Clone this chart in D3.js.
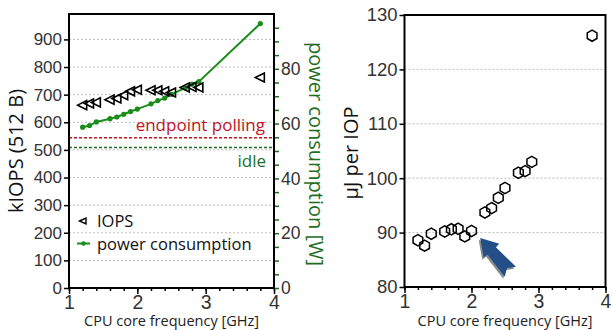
<!DOCTYPE html>
<html lang="en">
<head>
<meta charset="utf-8">
<title>CPU frequency vs IOPS and energy</title>
<style>
  body { margin: 0; background: #fff; }
  svg { display: block; font-family: "Open Sans", sans-serif; }
  .grid line { stroke: #bdbdbd; stroke-dasharray: 2,2; }
  .frame { fill: none; stroke: #000; stroke-width: 2; }
  .tick text { fill: #333; }
</style>
</head>
<body>
<svg width="613" height="330"></svg>
<script src="https://d3js.org/d3.v7.min.js"></script>
<script>
  // CPU core frequency in GHz
  const freqs = [1.2, 1.3, 1.4, 1.6, 1.7, 1.8, 1.9, 2.0, 2.2, 2.3, 2.4, 2.5, 2.7, 2.8, 2.9, 3.8];
  // kIOPS (512 B)
  const kiops = [662, 668, 672, 682, 686, 698, 712, 718, 716, 716, 712, 708, 726, 728, 726, 762];
  // power consumption in W
  const power = [58.7, 59.3, 60.6, 61.8, 62.4, 63.4, 64.4, 65.3, 67.2, 68.4, 69.3, 70.7, 73.0, 74.4, 75.3, 96.5];
  // energy per IO in uJ
  const energy = [88.6, 87.6, 89.8, 90.2, 90.6, 90.7, 89.3, 90.3, 93.7, 94.5, 96.4, 98.2, 101.0, 101.3, 103.0, 126.2];
  // reference levels in W
  const pollingW = 54.8;
  const idleW = 51.3;

  const green = "#1a8c1a";
  const darkGreen = "#1f6e1f";
  const red = "#c0141e";

  const svg = d3.select("svg");

  // ---------- left panel ----------
  const x1 = d3.scaleLinear().domain([1, 4]).range([69, 274]);
  const yIops = d3.scaleLinear().domain([0, 992]).range([288, 14]);
  const yPow = d3.scaleLinear().domain([0, 100]).range([288, 14]);

  const left = svg.append("g");

  left.append("g").attr("class", "grid")
    .selectAll("line").data(d3.range(100, 901, 100)).join("line")
    .attr("x1", 69).attr("x2", 274)
    .attr("y1", d => yIops(d)).attr("y2", d => yIops(d));

  // reference lines
  left.append("line")
    .attr("x1", 69).attr("x2", 274)
    .attr("y1", yPow(pollingW)).attr("y2", yPow(pollingW))
    .attr("stroke", red).attr("stroke-width", 1.5).attr("stroke-dasharray", "3,2");
  left.append("line")
    .attr("x1", 69).attr("x2", 274)
    .attr("y1", yPow(idleW)).attr("y2", yPow(idleW))
    .attr("stroke", darkGreen).attr("stroke-width", 1.5).attr("stroke-dasharray", "3,2");
  left.append("text").text("endpoint polling")
    .attr("x", 265).attr("y", yPow(pollingW) - 7)
    .attr("text-anchor", "end").attr("fill", red).style("font-size", "17px");
  left.append("text").text("idle")
    .attr("x", 266).attr("y", yPow(idleW) + 20)
    .attr("text-anchor", "end").attr("fill", darkGreen).style("font-size", "17px");

  // power line
  const pts = freqs.map((f, i) => [f, power[i]]);
  left.append("path")
    .datum(pts)
    .attr("fill", "none").attr("stroke", green).attr("stroke-width", 2)
    .attr("d", d3.line().x(d => x1(d[0])).y(d => yPow(d[1])));
  left.append("g").selectAll("circle").data(pts).join("circle")
    .attr("cx", d => x1(d[0])).attr("cy", d => yPow(d[1]))
    .attr("r", 2.6).attr("fill", green);

  // IOPS triangles pointing left
  const tri = "M-5,0L4,-4.5L4,4.5Z";
  left.append("g").selectAll("path").data(freqs).join("path")
    .attr("transform", (f, i) => `translate(${x1(f)},${yIops(kiops[i])})`)
    .attr("d", tri)
    .attr("fill", "none").attr("stroke", "#000").attr("stroke-width", 1.6);

  // axes
  const xAxisL = left.append("g").attr("transform", "translate(0,288)");
  xAxisL.call(d3.axisBottom(x1).tickValues(d3.range(1, 4.01, 0.2)).tickFormat("").tickSize(3));
  const xMajL = left.append("g").attr("transform", "translate(0,288)")
    .call(d3.axisBottom(x1).tickValues([1, 2, 3, 4]).tickFormat(d3.format("d")).tickSize(6).tickPadding(1));
  xMajL.selectAll("text").style("font-size", "19.5px");

  const yAxL = left.append("g").attr("transform", "translate(69,0)")
    .call(d3.axisLeft(yIops).tickValues(d3.range(0, 901, 100)).tickSize(5).tickPadding(2));
  yAxL.selectAll("text").style("font-size", "17px");

  const yAxR = left.append("g").attr("transform", "translate(274,0)")
    .call(d3.axisRight(yPow).tickValues(d3.range(0, 96, 5)).tickFormat(d => d % 20 === 0 ? d : "").tickSize(5).tickPadding(2));
  yAxR.selectAll("line").attr("stroke", darkGreen).attr("stroke-width", 1.5);
  yAxR.selectAll("text").style("font-size", "17.5px").attr("fill", darkGreen);

  [xAxisL, xMajL, yAxL, yAxR].forEach(a => a.select(".domain").remove());
  [xAxisL, xMajL, yAxL].forEach(a => a.selectAll("line").attr("stroke-width", 1.5));

  left.append("rect").attr("class", "frame")
    .attr("x", 69).attr("y", 14).attr("width", 205).attr("height", 274);

  // legend
  left.append("path").attr("d", "M-3.5,0L3,-3L3,3Z")
    .attr("transform", "translate(83,221)")
    .attr("fill", "none").attr("stroke", "#000").attr("stroke-width", 1.4);
  left.append("text").text("IOPS").attr("x", 97).attr("y", 226.5).style("font-size", "16.5px").attr("fill", "#111");
  left.append("line").attr("x1", 77).attr("x2", 90).attr("y1", 243.5).attr("y2", 243.5)
    .attr("stroke", green).attr("stroke-width", 2);
  left.append("circle").attr("cx", 83.5).attr("cy", 243.5).attr("r", 2.3).attr("fill", green);
  left.append("text").text("power consumption").attr("x", 97).attr("y", 249.5).style("font-size", "16.5px").attr("fill", "#111");

  // axis titles
  left.append("text").text("kIOPS (512 B)")
    .attr("transform", "translate(23,151) rotate(-90)")
    .attr("text-anchor", "middle").style("font-size", "20px").attr("fill", "#111");
  left.append("text").text("power consumption [W]")
    .attr("transform", "translate(309,154) rotate(90)")
    .attr("text-anchor", "middle").style("font-size", "20px").attr("fill", darkGreen);
  left.append("text").text("CPU core frequency [GHz]")
    .attr("x", 171.5).attr("y", 326)
    .attr("text-anchor", "middle").style("font-size", "14.5px").attr("fill", "#222");

  // ---------- right panel ----------
  const x2 = d3.scaleLinear().domain([1, 4]).range([404.5, 605.5]);
  const yE = d3.scaleLinear().domain([80, 130]).range([287, 15]);

  const right = svg.append("g");

  right.append("g").attr("class", "grid")
    .selectAll("line").data([90, 100, 110, 120]).join("line")
    .attr("x1", 404.5).attr("x2", 605.5)
    .attr("y1", d => yE(d)).attr("y2", d => yE(d));

  // pointy-top hexagon
  const r = 5.6;
  const hex = d3.range(6).map(k => {
    const a = Math.PI / 3 * k - Math.PI / 2;
    return [r * Math.cos(a), r * Math.sin(a)];
  });
  const hexPath = "M" + hex.map(p => p.join(",")).join("L") + "Z";
  right.append("g").selectAll("path").data(freqs).join("path")
    .attr("transform", (f, i) => `translate(${x2(f)},${yE(energy[i])})`)
    .attr("d", hexPath)
    .attr("fill", "none").attr("stroke", "#000").attr("stroke-width", 1.5);

  // annotation arrow
  function arrowPath(tip, tail) {
    const dx = tail[0] - tip[0], dy = tail[1] - tip[1];
    const L = Math.hypot(dx, dy);
    const ux = dx / L, uy = dy / L, nx = -uy, ny = ux;
    const hl = 17, hw = 10.5, sw = 5.5;
    const p = (a, b) => [tip[0] + ux * a + nx * b, tip[1] + uy * a + ny * b];
    return "M" + [p(0, 0), p(hl, hw), p(hl, sw), p(L, sw + 2), p(L - 5, 0), p(L, -sw - 2), p(hl, -sw), p(hl, -hw)]
      .map(q => q.join(",")).join("L") + "Z";
  }
  const tip = [x2(2.13), yE(89.0)];
  const tail = [x2(2.58), yE(82.8)];
  right.append("path").attr("d", arrowPath(tip, tail))
    .attr("transform", "translate(-1.5,2)").attr("fill", "#8a8a8a");
  right.append("path").attr("d", arrowPath(tip, tail)).attr("fill", "#234e86");

  const xAx2 = right.append("g").attr("transform", "translate(0,287)")
    .call(d3.axisBottom(x2).tickValues(d3.range(1, 4.01, 0.2)).tickFormat("").tickSize(3));
  const xMaj2 = right.append("g").attr("transform", "translate(0,287)")
    .call(d3.axisBottom(x2).tickValues([1, 2, 3, 4]).tickFormat(d3.format("d")).tickSize(6).tickPadding(1));
  xMaj2.selectAll("text").style("font-size", "19.5px");
  const yAx2 = right.append("g").attr("transform", "translate(404.5,0)")
    .call(d3.axisLeft(yE).tickValues([80, 90, 100, 110, 120, 130]).tickSize(5).tickPadding(2));
  yAx2.selectAll("text").style("font-size", "18.5px");
  [xAx2, xMaj2, yAx2].forEach(a => { a.select(".domain").remove(); a.selectAll("line").attr("stroke-width", 1.5); });

  right.append("rect").attr("class", "frame")
    .attr("x", 404.5).attr("y", 15).attr("width", 201).attr("height", 272);

  right.append("text").text("µJ per IOP")
    .attr("transform", "translate(358,153) rotate(-90)")
    .attr("text-anchor", "middle").style("font-size", "20px").attr("fill", "#111");
  right.append("text").text("CPU core frequency [GHz]")
    .attr("x", 505).attr("y", 326)
    .attr("text-anchor", "middle").style("font-size", "14.5px").attr("fill", "#222");
</script>
</body>
</html>
